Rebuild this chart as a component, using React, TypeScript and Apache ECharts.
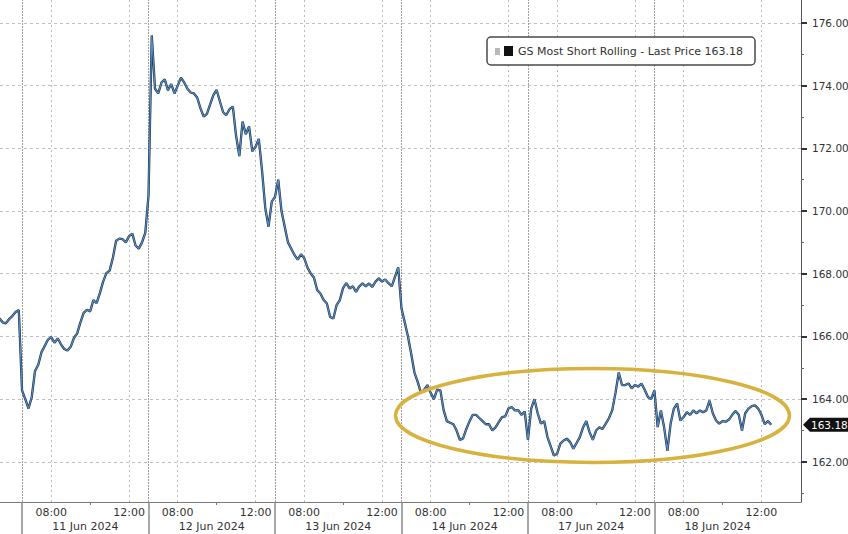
import { useEffect, useRef } from "react";
import * as echarts from "echarts";

// ---------- data (10-minute closes, session 06:30-13:00) ----------
const DAY_LABELS = ["10 Jun 2024", "11 Jun 2024", "12 Jun 2024", "13 Jun 2024", "14 Jun 2024", "17 Jun 2024", "18 Jun 2024"];
const DAY_STARTS = ["11:50", "06:30", "06:30", "06:30", "06:30", "06:30", "06:30"];

const jun10 = [166.58, 166.45, 166.42, 166.55, 166.65, 166.78, 166.84];
const jun11 = [164.28, 164.0, 163.7, 164.07, 164.9, 165.1, 165.5, 165.7, 165.9, 165.98, 165.8, 165.94, 165.75, 165.6, 165.55, 165.67, 165.95, 166.1, 166.45, 166.75, 166.85, 166.8, 167.16, 167.06, 167.38, 167.75, 168.02, 168.1, 168.5, 169.05, 169.12, 169.1, 169.0, 169.2, 169.28, 168.9, 168.8, 169.0, 169.3];
const jun12 = [170.5, 175.6, 173.9, 173.75, 174.1, 174.2, 173.85, 174.05, 173.75, 174.0, 174.25, 174.1, 173.9, 173.78, 173.75, 173.62, 173.28, 173.01, 173.1, 173.4, 173.7, 173.86, 173.5, 173.15, 173.06, 173.25, 173.33, 172.4, 171.75, 172.85, 172.45, 172.7, 171.9, 172.05, 172.3, 171.3, 170.1, 169.5, 170.3];
const jun13 = [170.45, 171.0, 170.0, 169.5, 169.0, 168.8, 168.6, 168.45, 168.62, 168.5, 168.2, 168.01, 167.88, 167.48, 167.37, 167.16, 167.05, 166.62, 166.57, 167.0, 167.16, 167.55, 167.7, 167.53, 167.6, 167.42, 167.6, 167.69, 167.6, 167.69, 167.58, 167.75, 167.85, 167.75, 167.82, 167.7, 167.6, 167.9, 168.2];
const jun14 = [166.9, 166.45, 166.0, 165.45, 164.85, 164.55, 164.2, 164.3, 164.45, 164.2, 164.0, 164.3, 164.28, 163.65, 163.3, 163.25, 163.2, 163.0, 162.7, 162.75, 163.05, 163.3, 163.5, 163.5, 163.4, 163.3, 163.2, 163.2, 163.0, 163.1, 163.27, 163.43, 163.45, 163.7, 163.75, 163.64, 163.65, 163.5, 163.6];
const jun17 = [162.7, 163.7, 164.0, 163.55, 163.22, 163.3, 162.8, 162.5, 162.2, 162.26, 162.58, 162.68, 162.74, 162.63, 162.42, 162.6, 162.79, 163.1, 163.3, 162.95, 162.7, 163.0, 163.1, 163.05, 163.22, 163.4, 163.65, 164.2, 164.85, 164.45, 164.45, 164.5, 164.34, 164.45, 164.4, 164.5, 164.3, 164.07, 164.0];
const jun18 = [164.28, 163.11, 163.64, 163.1, 162.35, 163.22, 163.7, 163.86, 163.32, 163.43, 163.59, 163.5, 163.64, 163.55, 163.64, 163.58, 163.64, 163.95, 163.55, 163.32, 163.22, 163.3, 163.28, 163.35, 163.5, 163.62, 163.5, 163.0, 163.55, 163.7, 163.78, 163.8, 163.7, 163.5, 163.2, 163.3, 163.18];
const DAY_VALUES = [jun10, jun11, jun12, jun13, jun14, jun17, jun18];

const TIME_LABELS = ["08:00", "12:00"];
const MINOR_TIME_TICKS = ["10:00"];
const Y_LABELS = [162, 164, 166, 168, 170, 172, 174, 176];
const Y_MINOR = [161, 163, 165, 167, 169, 171, 173, 175];
const SERIES_NAME = "GS Most Short Rolling - Last Price";

// ---------- helpers ----------
const SESSION_OPEN = 6 * 60 + 30;
const SESSION_LEN = 390;
const STEP = 10;
const toMin = (hhmm: string) => {
  const [h, m] = hhmm.split(":").map(Number);
  return h * 60 + m - SESSION_OPEN;
};
const X_MIN = 322;
const X_MAX = 2792;
const Y_MIN = 160.72;
const Y_MAX = 176.73;
const FONT = '"DejaVu Sans", Verdana, sans-serif';

const lineData: number[][] = [];
DAY_VALUES.forEach((vals, d) => {
  vals.forEach((v, k) => lineData.push([d * SESSION_LEN + toMin(DAY_STARTS[d]) + k * STEP, v]));
});
const LAST_PRICE = jun18[jun18.length - 1];

const days = DAY_LABELS.map((_, d) => d).filter((d) => d > 0);
const timeTickValues = days.flatMap((d) => TIME_LABELS.map((t) => d * SESSION_LEN + toMin(t)));
const minorTimeValues = days.flatMap((d) => MINOR_TIME_TICKS.map((t) => d * SESSION_LEN + toMin(t)));
const dayCenters = days.map((d) => d * SESSION_LEN + SESSION_LEN / 2);
const dayBounds = days.map((d) => d * SESSION_LEN);

const fmtTime = (v: number) => {
  const m = (((v % SESSION_LEN) + SESSION_LEN) % SESSION_LEN) + SESSION_OPEN;
  const hh = Math.floor(m / 60);
  const mm = Math.round(m % 60);
  return `${String(hh).padStart(2, "0")}:${String(mm).padStart(2, "0")}`;
};
const fmtDay = (v: number) => DAY_LABELS[Math.floor(v / SESSION_LEN)] || "";

const ELLIPSE_CENTER = [2149, 163.48];

export default function App() {
  const ref = useRef<HTMLDivElement>(null);
  useEffect(() => {
    if (!ref.current) return;
    const chart = echarts.init(ref.current, undefined, { renderer: "svg" });
    const baseX = {
      type: "value" as const,
      min: X_MIN,
      max: X_MAX,
      position: "bottom" as const,
      splitLine: { show: false },
    };
    const vLines = [
      ...timeTickValues.map((v) => ({ xAxis: v, lineStyle: { color: "#bdbdbd", type: [2, 3], width: 1 } })),
      ...dayBounds.map((v) => ({ xAxis: v, lineStyle: { color: "#a0a0a0", type: [2, 1], width: 1 } })),
    ];
    chart.setOption({
      animation: false,
      backgroundColor: "#ffffff",
      grid: { left: 0, right: 47, top: 0, bottom: 32, containLabel: false, outerBoundsMode: "none" },
      xAxis: [
        {
          ...baseX,
          axisLine: { show: true, lineStyle: { color: "#7a7a7a", width: 1 } },
          axisTick: { show: true, customValues: minorTimeValues, length: 3, lineStyle: { color: "#7a7a7a" } },
          axisLabel: { customValues: timeTickValues, formatter: fmtTime, color: "#333", fontSize: 11, fontFamily: FONT, margin: 5 },
        },
        {
          ...baseX,
          offset: 14,
          axisLine: { show: false },
          axisTick: { show: false },
          axisLabel: { customValues: dayCenters, formatter: fmtDay, color: "#333", fontSize: 11, fontFamily: FONT, margin: 5 },
        },
        {
          ...baseX,
          axisLine: { show: false },
          axisTick: { show: true, customValues: dayBounds, length: 32, lineStyle: { color: "#8a8a8a", width: 1.5 } },
          axisLabel: { show: false },
        },
      ],
      yAxis: [
        {
          type: "value",
          position: "right",
          min: Y_MIN,
          max: Y_MAX,
          axisLine: { show: true, lineStyle: { color: "#555", width: 1 } },
          axisTick: { show: true, customValues: Y_LABELS, length: 6, lineStyle: { color: "#333", width: 2 } },
          axisLabel: {
            customValues: Y_LABELS,
            formatter: (v: number) => v.toFixed(2),
            color: "#333",
            fontSize: 10.5,
            fontFamily: FONT,
            margin: 11,
          },
          splitLine: { show: true, lineStyle: { color: "#c0c0c0", type: [3, 3], width: 1 } },
        },
        {
          type: "value",
          position: "right",
          min: Y_MIN,
          max: Y_MAX,
          axisLine: { show: false },
          axisTick: { show: true, customValues: Y_MINOR, length: 3, lineStyle: { color: "#666", width: 1 } },
          axisLabel: { show: false },
          splitLine: { show: false },
        },
      ],
      series: [
        {
          name: SERIES_NAME,
          type: "line",
          xAxisIndex: 0,
          yAxisIndex: 0,
          data: lineData,
          showSymbol: false,
          lineStyle: { color: "#222b35", width: 2.3 },
          z: 3,
          markLine: {
            silent: true,
            symbol: ["none", "none"],
            label: { show: false },
            data: vLines,
            z: 1,
          },
        },
        {
          name: SERIES_NAME + " core",
          type: "line",
          xAxisIndex: 0,
          yAxisIndex: 0,
          data: lineData,
          showSymbol: false,
          lineStyle: { color: "#4f8dcc", width: 1.2 },
          z: 4,
        },
      ],
    });

    const py = chart.convertToPixel({ yAxisIndex: 0 }, LAST_PRICE) as number;
    const ec = chart.convertToPixel({ xAxisIndex: 0, yAxisIndex: 0 }, ELLIPSE_CENTER) as number[];
    chart.setOption({
      graphic: [
        {
          type: "ellipse",
          z: 50,
          shape: { cx: ec[0], cy: ec[1], rx: 197, ry: 47 },
          style: { fill: "none", stroke: "#d8b23e", lineWidth: 3.5 },
          silent: true,
        },
        {
          type: "rect",
          z: 60,
          shape: { x: 487, y: 37, width: 268, height: 28, r: 4 },
          style: { fill: "#ffffff", stroke: "#4a4a4a", lineWidth: 1.5 },
        },
        { type: "rect", z: 61, shape: { x: 495, y: 48, width: 5, height: 7 }, style: { fill: "#b8b8b8" } },
        { type: "rect", z: 61, shape: { x: 504, y: 46, width: 9, height: 10 }, style: { fill: "#111111" } },
        {
          type: "text",
          z: 61,
          x: 518,
          y: 51,
          style: {
            text: `${SERIES_NAME} ${LAST_PRICE.toFixed(2)}`,
            font: `11px ${FONT}`,
            fill: "#333",
            verticalAlign: "middle",
          },
        },
        {
          type: "polygon",
          z: 61,
          shape: { points: [[803, py], [810, py - 7], [848, py - 7], [848, py + 7], [810, py + 7]] },
          style: { fill: "#111111" },
        },
        {
          type: "text",
          z: 62,
          x: 811,
          y: py,
          style: { text: LAST_PRICE.toFixed(2), font: `10.5px ${FONT}`, fill: "#ffffff", verticalAlign: "middle" },
        },
      ],
    });
    return () => chart.dispose();
  }, []);
  return <div ref={ref} style={{ position: "fixed", left: 0, top: 0, width: 848, height: 534 }} />;
}
